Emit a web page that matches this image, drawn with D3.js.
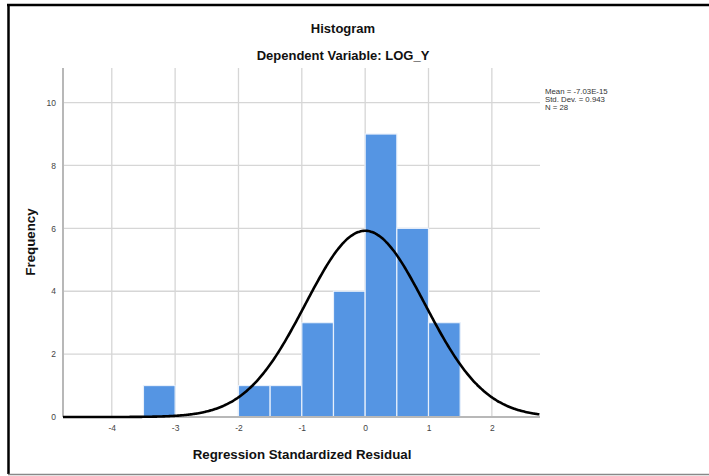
<!DOCTYPE html>
<html>
<head>
<meta charset="utf-8">
<script src="https://cdn.jsdelivr.net/npm/d3@7"></script>
<style>
  body { margin: 0; background: #fff; }
  svg { display: block; font-family: Arial, "Liberation Sans", sans-serif; }
</style>
</head>
<body>
<svg id="chart" width="709" height="476"></svg>
<script>
// histogram bins (lower edge) and counts
const binStarts = [-3.5, -2.0, -1.5, -1.0, -0.5, 0.0, 0.5, 1.0];
const binWidth = 0.5;
const counts = [1, 1, 1, 3, 4, 9, 6, 3];

const xTicks = [-4, -3, -2, -1, 0, 1, 2];
const yTicks = [0, 2, 4, 6, 8, 10];

const mean = -7.03e-15;
const stdDev = 0.943;
const n = 28;
const statLines = ['Mean = -7.03E-15', 'Std. Dev. = 0.943', 'N = 28'];

const svg = d3.select('#chart');
const margin = { left: 63, right: 169, top: 68, bottom: 59 };
const width = 709, height = 476;

const x = d3.scaleLinear().domain([-4.77, 2.76]).range([margin.left, width - margin.right]);
const y = d3.scaleLinear().domain([0, 11.1]).range([height - margin.bottom, margin.top]);

// frame
svg.append('line').attr('x1', 8.5).attr('x2', 8.5).attr('y1', 4).attr('y2', 474)
   .attr('stroke', '#000').attr('stroke-width', 2.5);
svg.append('line').attr('x1', 7).attr('x2', 709).attr('y1', 5).attr('y2', 5)
   .attr('stroke', '#000').attr('stroke-width', 2.5);
svg.append('line').attr('x1', 8).attr('x2', 709).attr('y1', 474.5).attr('y2', 474.5)
   .attr('stroke', '#888').attr('stroke-width', 1.5);

// grid
svg.append('g')
   .selectAll('line').data(xTicks).join('line')
   .attr('x1', d => x(d)).attr('x2', d => x(d))
   .attr('y1', y.range()[1]).attr('y2', y(0))
   .attr('stroke', '#d6d6d6').attr('stroke-width', 1.3);
svg.append('g')
   .selectAll('line').data(yTicks.filter(d => d > 0)).join('line')
   .attr('x1', x.range()[0]).attr('x2', x.range()[1])
   .attr('y1', d => y(d)).attr('y2', d => y(d))
   .attr('stroke', '#d6d6d6').attr('stroke-width', 1.3);

// bars
svg.append('g')
   .selectAll('rect').data(binStarts).join('rect')
   .attr('x', d => x(d))
   .attr('width', d => x(d + binWidth) - x(d))
   .attr('y', (d, i) => y(counts[i]))
   .attr('height', (d, i) => y(0) - y(counts[i]))
   .attr('fill', '#5595e3')
   .attr('stroke', '#e8f0fb').attr('stroke-width', 1.2);

// axes
const xAxis = d3.axisBottom(x).tickValues(xTicks).tickFormat(d => String(d)).tickSize(0).tickPadding(8);
const yAxis = d3.axisLeft(y).tickValues(yTicks).tickFormat(d => String(d)).tickSize(0).tickPadding(7);

const gx = svg.append('g').attr('transform', `translate(0,${y(0)})`).call(xAxis);
const gy = svg.append('g').attr('transform', `translate(${x.range()[0]},0)`).call(yAxis);
[gx, gy].forEach(g => {
  g.select('.domain').attr('stroke', '#b8b8b8').attr('stroke-width', 2);
  g.selectAll('text').attr('font-size', 8.5).attr('fill', '#444')
   .attr('font-family', 'Arial, "Liberation Sans", sans-serif');
});
gy.select('.domain').attr('d', `M0,${y.range()[1]}V${y(0)}`);
gx.select('.domain').attr('d', `M${x.range()[0]},0H${x.range()[1]}`);

// normal curve
const xs = d3.range(x.domain()[0], x.domain()[1] + 0.001, 0.02);
const scale = n * binWidth / (stdDev * Math.sqrt(2 * Math.PI));
const line = d3.line()
   .x(d => x(d))
   .y(d => y(scale * Math.exp(-0.5 * ((d - mean) / stdDev) ** 2)))
   .curve(d3.curveBasis);
svg.append('path').datum(xs)
   .attr('d', line)
   .attr('fill', 'none').attr('stroke', '#000').attr('stroke-width', 2.6);

// titles
svg.append('text').attr('x', 343).attr('y', 33).attr('text-anchor', 'middle')
   .attr('font-size', 13).attr('font-weight', 600).attr('fill', '#111').text('Histogram');
svg.append('text').attr('x', 343).attr('y', 60).attr('text-anchor', 'middle')
   .attr('font-size', 13).attr('font-weight', 600).attr('fill', '#111').text('Dependent Variable: LOG_Y');
svg.append('text').attr('x', 302).attr('y', 459).attr('text-anchor', 'middle')
   .attr('font-size', 13.3).attr('font-weight', 600).attr('fill', '#111').text('Regression Standardized Residual');
svg.append('text').attr('transform', 'translate(35,242) rotate(-90)').attr('text-anchor', 'middle')
   .attr('font-size', 13.3).attr('font-weight', 600).attr('fill', '#111').text('Frequency');

// stats box
svg.append('g').selectAll('text').data(statLines).join('text')
   .attr('x', 545).attr('y', (d, i) => 94 + i * 8.2)
   .attr('font-size', 7.8).attr('fill', '#333').text(d => d);
</script>
</body>
</html>
